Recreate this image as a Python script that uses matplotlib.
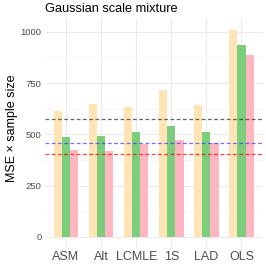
import numpy as np
import matplotlib.pyplot as plt
from matplotlib.ticker import MultipleLocator

plt.rcParams['font.family'] = ['Liberation Sans', 'DejaVu Sans']

# estimators and MSE x n for the three series
methods = ['ASM', 'Alt', 'LCMLE', '1S', 'LAD', 'OLS']
series_a = [612, 646, 633, 716, 644, 1011]   # light orange
series_b = [485, 492, 511, 542, 513, 934]    # green
series_c = [422, 419, 453, 472, 456, 889]    # pink

# reference lines
ref_black = 575
ref_blue = 459
ref_red = 403

colors = ['#FFE4B5', '#7CCD7C', '#FFB6C1']

fig = plt.figure(figsize=(2.66, 2.66), dpi=100)
ax = fig.add_axes([0.169, 0.071, 0.818, 0.858])

x = np.arange(1, len(methods) + 1)
w = 0.7 / 3
for i, (vals, col) in enumerate(zip([series_a, series_b, series_c], colors)):
    ax.bar(x + (i - 1) * w, vals, width=w, color=col, zorder=2)

ax.axhline(ref_black, color='#333333', ls=(0, (3, 2)), lw=0.9, alpha=0.75, zorder=3)
ax.axhline(ref_blue, color='#3333FF', ls=(0, (3, 2)), lw=0.9, alpha=0.7, zorder=3)
ax.axhline(ref_red, color='red', ls=(0, (3, 2)), lw=0.9, alpha=0.75, zorder=3)

ax.set_xlim(0.4, 6.6)
ax.set_ylim(-50.5, 1063)
ax.set_xticks(x)
ax.set_xticklabels(methods, fontsize=9, color='#4D4D4D')
ax.yaxis.set_major_locator(MultipleLocator(250))
ax.yaxis.set_minor_locator(MultipleLocator(125))
ax.tick_params(axis='y', labelsize=6.8, labelcolor='#4D4D4D')
ax.tick_params(which='both', length=0, pad=2.5)
ax.tick_params(axis='x', pad=3)

ax.grid(which='major', color='#EBEBEB', lw=0.8, zorder=0)
ax.grid(which='minor', axis='y', color='#F3F3F3', lw=0.5, zorder=0)
ax.set_axisbelow(True)
for s in ax.spines.values():
    s.set_visible(False)

ax.set_ylabel('MSE \u00d7 sample size', fontsize=9)
ax.yaxis.set_label_coords(-0.122, 0.52)
ax.set_title('Gaussian scale mixture', fontsize=9.2, loc='left', pad=5)

fig.savefig('out.png', dpi=100)
